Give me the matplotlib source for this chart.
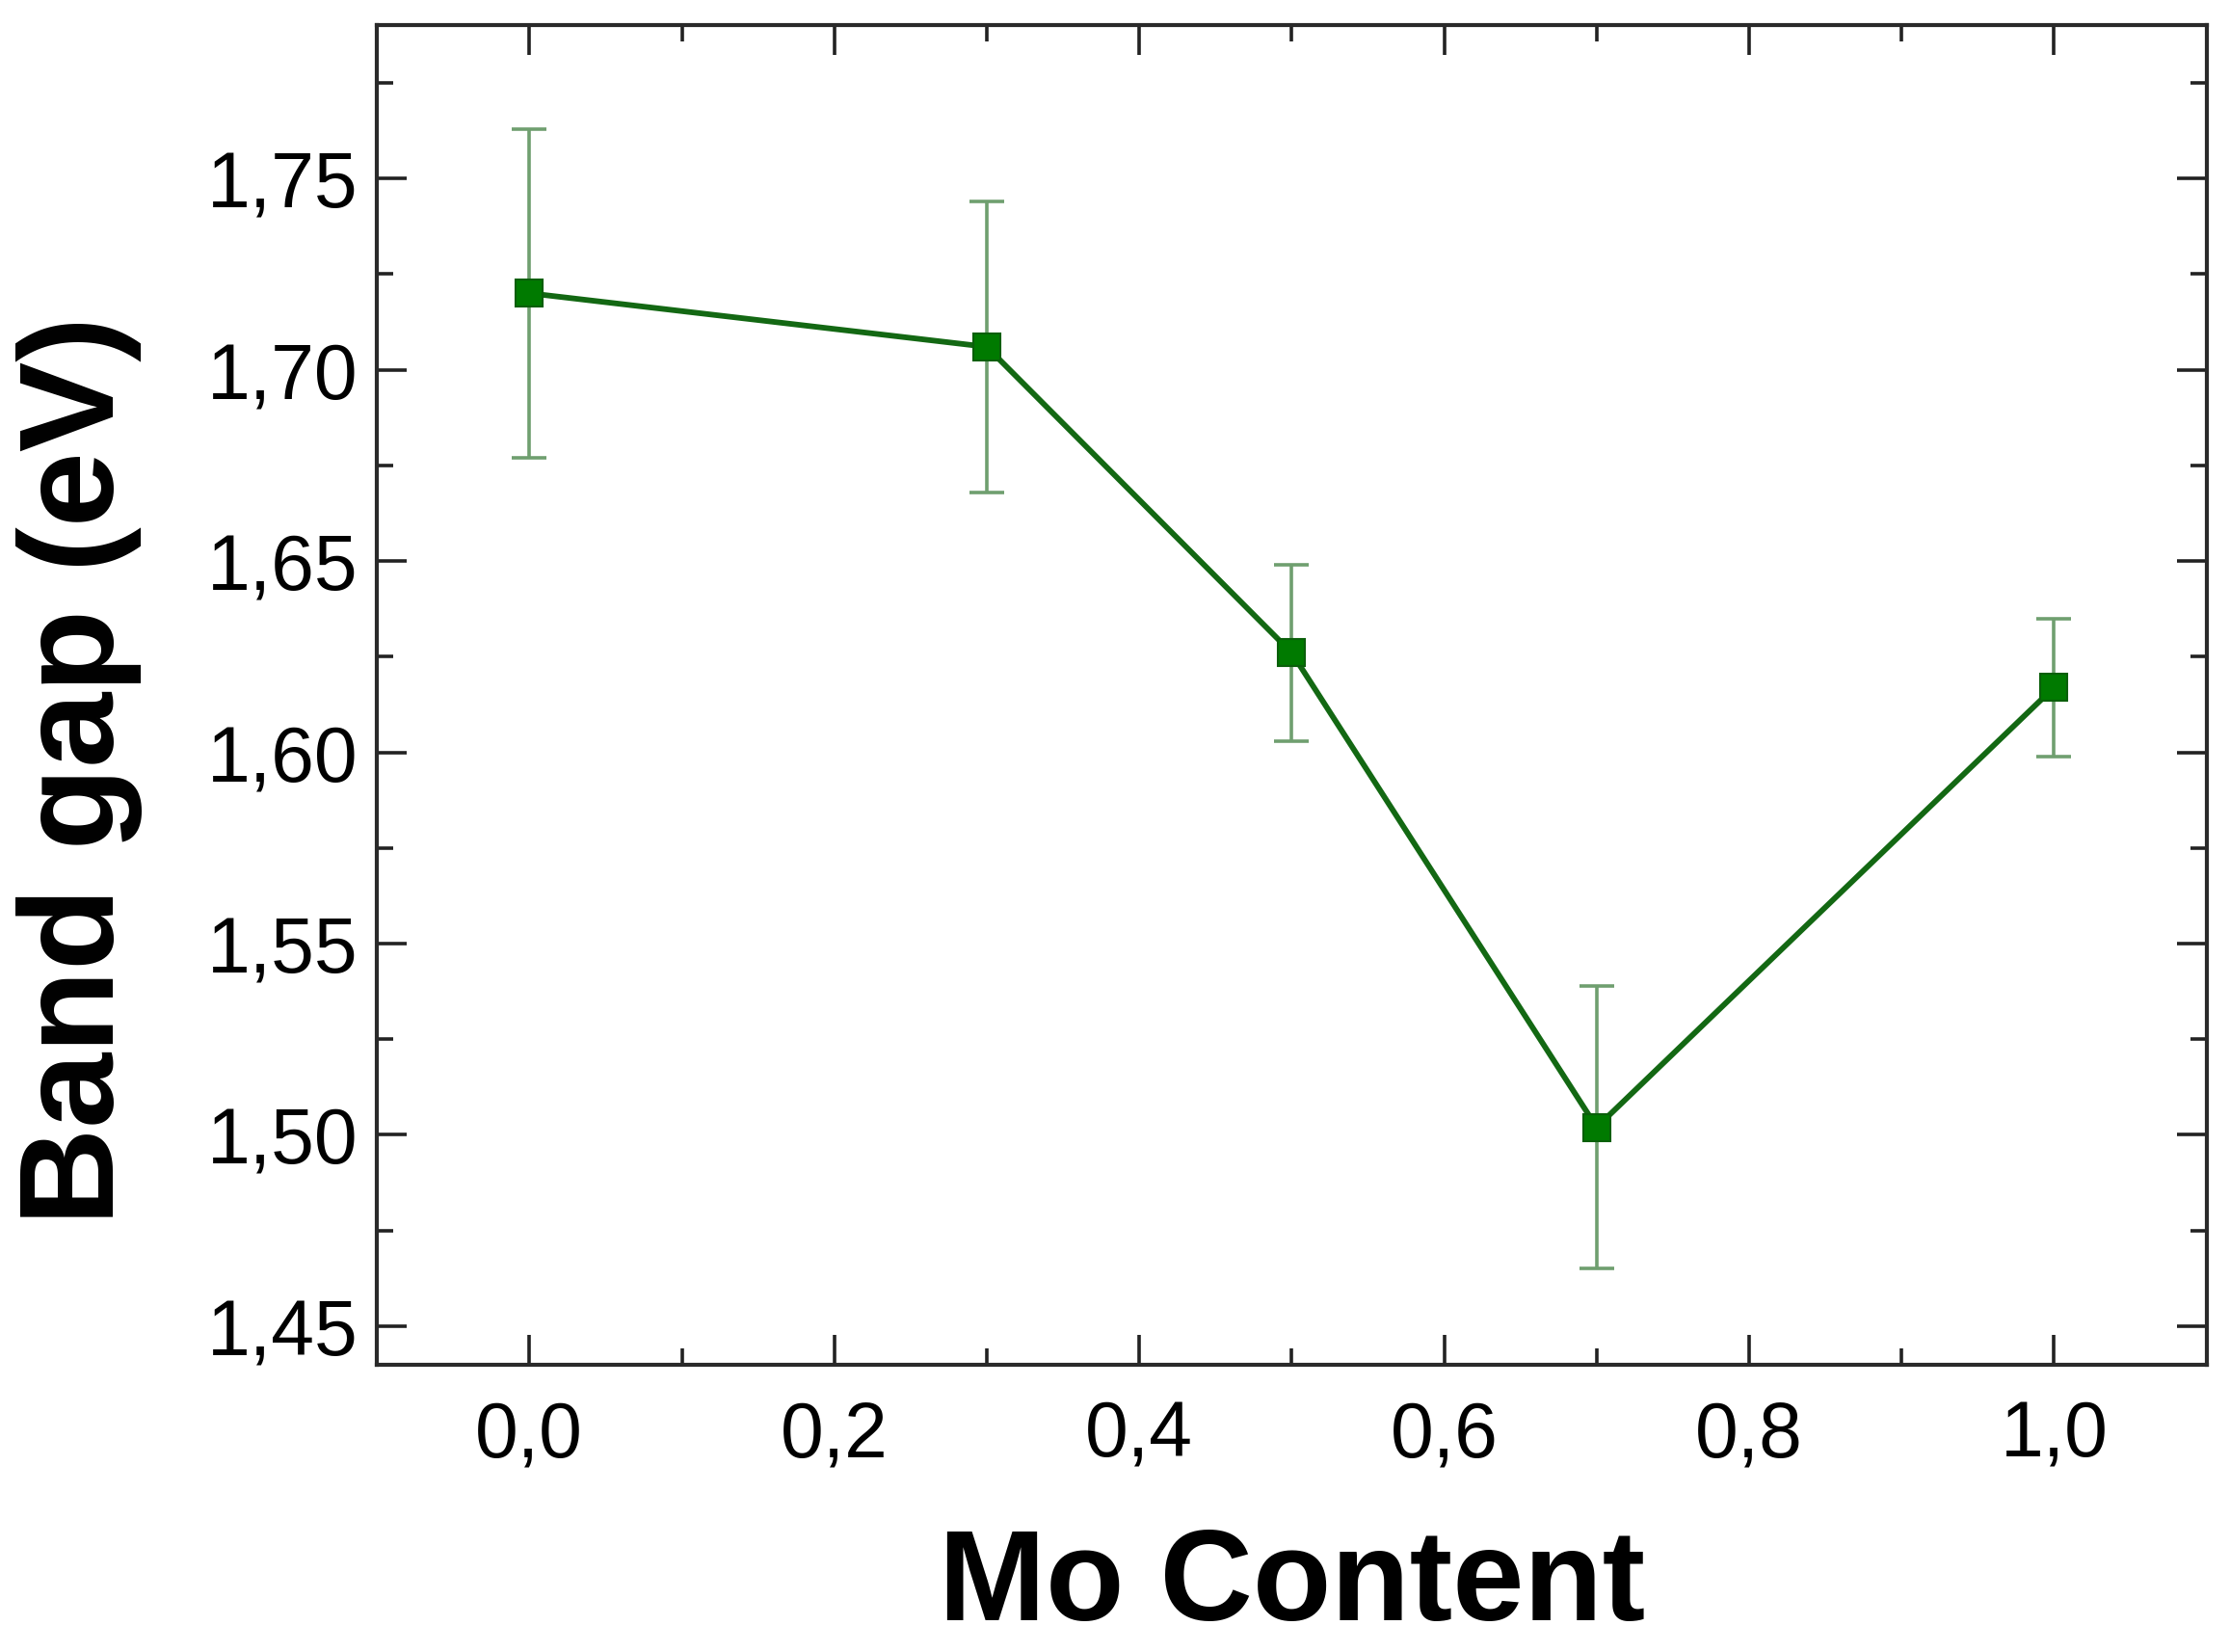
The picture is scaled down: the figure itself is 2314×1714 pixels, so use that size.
import matplotlib.pyplot as plt
from matplotlib.ticker import MultipleLocator, FuncFormatter

mo_content = [0.0, 0.3, 0.5, 0.7, 1.0]
band_gap = [1.720, 1.706, 1.626, 1.502, 1.617]
band_gap_err = [0.043, 0.038, 0.023, 0.037, 0.018]

plt.rcParams['font.family'] = ['Liberation Sans', 'DejaVu Sans']

fig = plt.figure(figsize=(23.14, 17.15), dpi=100)
ax = fig.add_axes([0.169, 0.174, 0.8205, 0.810])

# error bars in a paler green behind the line
ax.errorbar(mo_content, band_gap, yerr=band_gap_err, fmt='none',
            ecolor='#6f9f6f', elinewidth=2.6, capsize=13, capthick=2.6, zorder=2)
ax.plot(mo_content, band_gap, color='#136813', linewidth=4.2, zorder=3,
        marker='s', markersize=20, markerfacecolor='#007a00',
        markeredgecolor='#0a5f0a', markeredgewidth=1.5)

ax.set_xlim(-0.1, 1.1)
ax.set_ylim(1.44, 1.79)

ax.xaxis.set_major_locator(MultipleLocator(0.2))
ax.xaxis.set_minor_locator(MultipleLocator(0.1))
ax.yaxis.set_major_locator(MultipleLocator(0.05))
ax.yaxis.set_minor_locator(MultipleLocator(0.025))
ax.xaxis.set_major_formatter(FuncFormatter(lambda v, p: f'{v:.1f}'.replace('.', ',')))
ax.yaxis.set_major_formatter(FuncFormatter(lambda v, p: f'{v:.2f}'.replace('.', ',')))

ax.tick_params(which='both', direction='in', top=True, right=True, color='#222222')
ax.tick_params(which='major', length=22, width=2.6)
ax.tick_params(which='minor', length=12, width=2.6)
ax.tick_params(axis='x', which='major', labelsize=58, pad=26)
ax.tick_params(axis='y', which='major', labelsize=58, pad=14)

for s in ax.spines.values():
    s.set_linewidth(3)
    s.set_color('#2a2a2a')

ax.set_xlabel('Mo Content', fontsize=96, fontweight='bold', labelpad=40)
ax.set_ylabel('Band gap (eV)', fontsize=101, fontweight='bold')
# label sits a bit lower than the axes centre in the original
ax.yaxis.set_label_coords(-0.128, 0.444)

fig.savefig('out.png', dpi=100)
